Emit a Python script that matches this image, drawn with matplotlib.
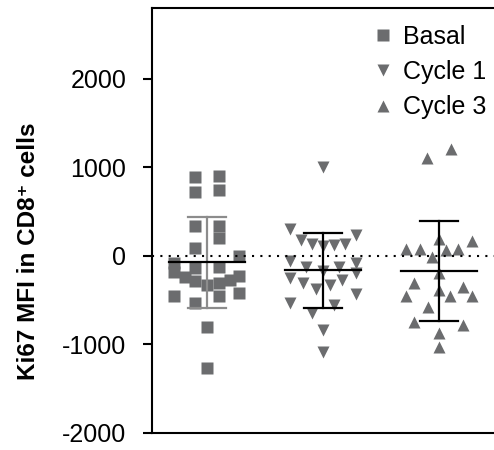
import matplotlib
matplotlib.use("Agg")
import matplotlib.pyplot as plt
import numpy as np

plt.rcParams['font.family'] = ['Liberation Sans', 'DejaVu Sans']
plt.rcParams['axes.unicode_minus'] = False

groups = ['Basal', 'Cycle 1', 'Cycle 3']
markers = ['s', 'v', '^']

basal = [891, 902, 717, 747, 340, 340, 200, 94, 0, -83, -177, -132, -121, -241,
         -282, -328, -309, -271, -226, -453, -528, -453, -415, -800, -1264]
basal_dx = [-0.10, 0.106, -0.10, 0.106, -0.10, 0.106, 0.106, -0.10, 0.276, -0.284, -0.284,
            -0.10, 0.106, -0.19, -0.10, 0.0, 0.106, 0.195, 0.276, -0.284, -0.10, 0.106,
            0.276, 0.0, 0.0]

cycle1 = [1009, 301, 237, 181, 136, 117, 124, 136, -53, -120, -166, -128, -75, -196,
          -252, -309, -377, -328, -271, -429, -527, -640, -554, -836, -1081]
cycle1_dx = [0.0, -0.281, 0.282, -0.192, -0.095, 0.0, 0.095, 0.187, -0.281, -0.143, 0.0,
             0.138, 0.282, 0.282, -0.281, -0.172, -0.057, 0.058, 0.167, 0.282, -0.281,
             -0.095, 0.095, 0.0, 0.0]

cycle3 = [1104, 1211, 189, 83, 76, 68, 83, 173, -15, -196, -301, -452, -384, -448,
          -354, -448, -572, -742, -780, -866, -1024]
cycle3_dx = [-0.103, 0.107, 0.0, -0.281, -0.166, 0.058, 0.167, 0.282, -0.06, 0.0, -0.21,
             -0.281, 0.0, 0.092, 0.207, 0.282, -0.095, -0.21, 0.207, 0.0, 0.0]

data = [basal, cycle1, cycle3]
offsets = [basal_dx, cycle1_dx, cycle3_dx]
bar_colors = ['#8c8c8c', 'black', 'black']
gray = '#6b6c6e'

fig = plt.figure(figsize=(4.94, 4.5), dpi=100)
ax = fig.add_axes([0.3077, 0.0378, 0.698, 0.9444])

for i, (vals, dx) in enumerate(zip(data, offsets)):
    xc = i + 1
    ax.plot(np.array(dx) + xc, vals, linestyle='none', marker=markers[i],
            ms=9 if markers[i] == 's' else 8.5, color=gray, mec='none',
            label=groups[i], zorder=2)
    m = np.mean(vals)
    sd = np.std(vals, ddof=1)
    ax.plot([xc - 0.33, xc + 0.33], [m, m], color='black', lw=1.6, zorder=4)
    c = bar_colors[i]
    ax.plot([xc, xc], [m - sd, m + sd], color=c, lw=1.6, zorder=3)
    ax.plot([xc - 0.165, xc + 0.165], [m + sd, m + sd], color=c, lw=1.6, zorder=3)
    ax.plot([xc - 0.165, xc + 0.165], [m - sd, m - sd], color=c, lw=1.6, zorder=3)

ax.axhline(0, color='black', lw=1.5, linestyle=(0, (1, 3)), zorder=5)

ax.set_xlim(0.526, 3.5)
ax.set_ylim(-2000, 2800)
ax.set_yticks([-2000, -1000, 0, 1000, 2000])
ax.set_xticks([])
ax.tick_params(axis='y', labelsize=18, length=6.5, width=1.5, pad=12)
for s in ax.spines.values():
    s.set_linewidth(1.5)

fig.text(0.057, 0.442, 'Ki67 MFI in CD8⁺ cells', rotation=90, ha='center', va='center',
         fontsize=17.5, fontweight='bold')

ax.legend(loc='upper left', bbox_to_anchor=(0.757, 0.945), bbox_transform=fig.transFigure,
          frameon=False, fontsize=18, handlelength=0.75, handletextpad=0.4,
          borderpad=0, borderaxespad=0, labelspacing=0.45)

fig.savefig('out.png', dpi=100)
